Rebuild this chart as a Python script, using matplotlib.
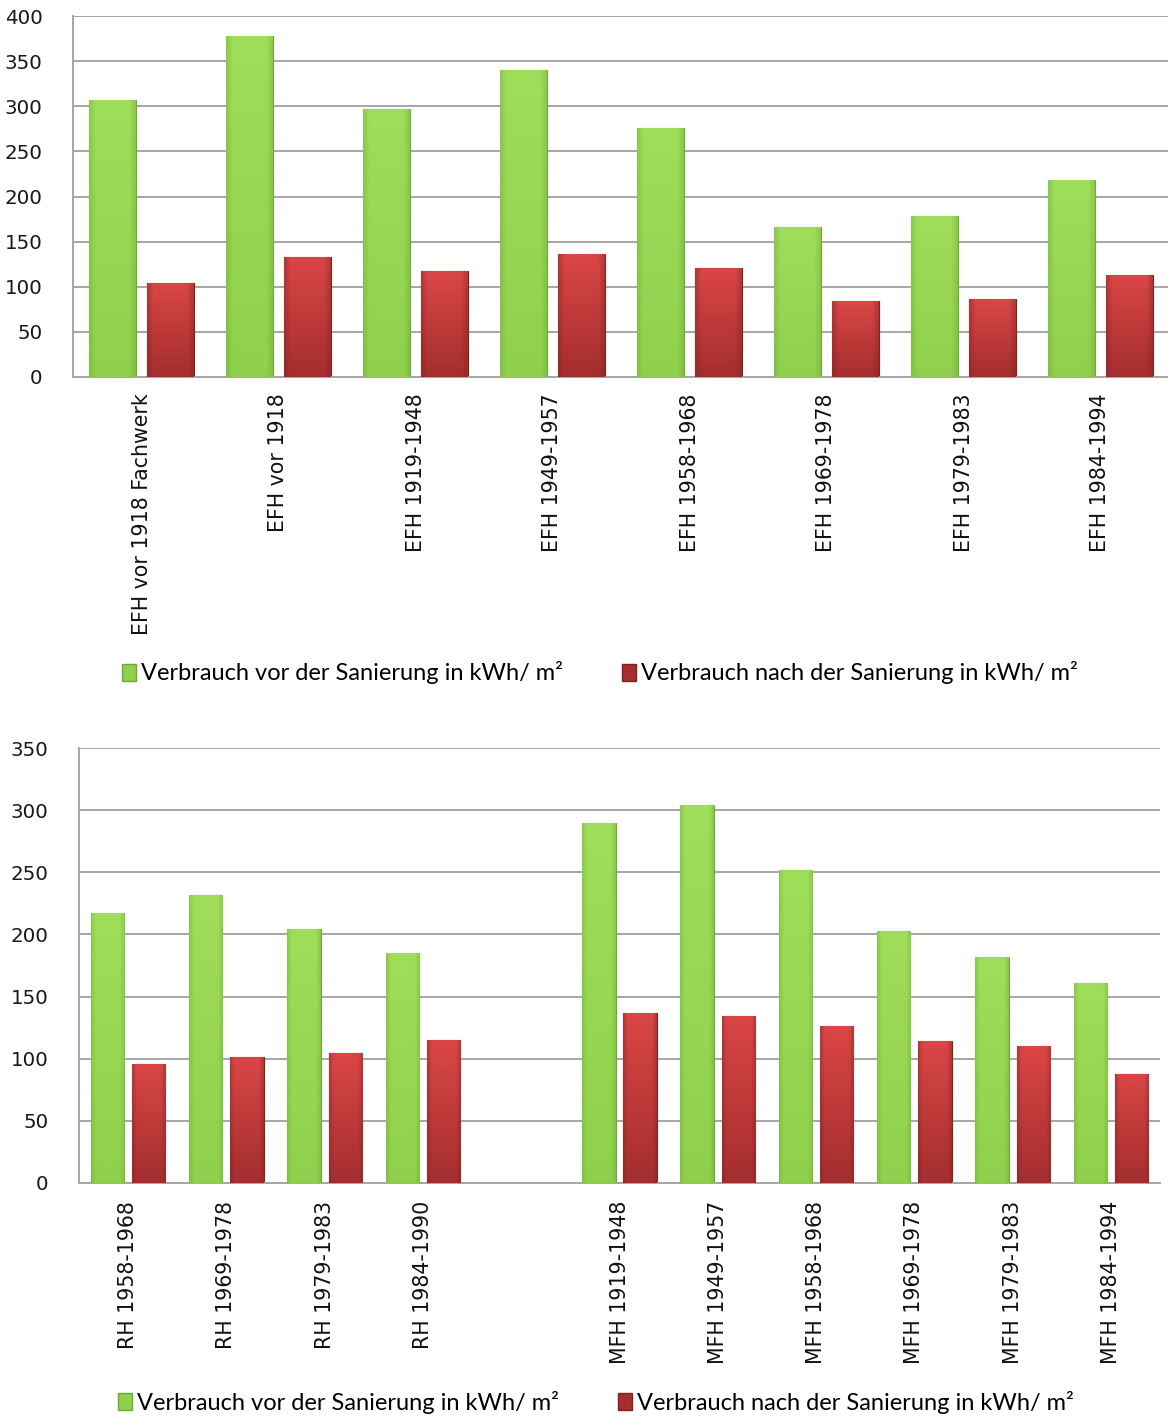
import numpy as np
import matplotlib
matplotlib.use('Agg')
import matplotlib.pyplot as plt
import matplotlib.patches as mpatches
from matplotlib.colors import to_rgb

# Daten oben (EFH)
efh_labels = ['EFH vor 1918 Fachwerk', 'EFH vor 1918', 'EFH 1919-1948', 'EFH 1949-1957',
              'EFH 1958-1968', 'EFH 1969-1978', 'EFH 1979-1983', 'EFH 1984-1994']
efh_vor = [307, 378, 297, 340, 276, 166, 178, 218]
efh_nach = [104, 133, 117, 136, 121, 84, 86, 113]

# Daten unten (RH / MFH), leere Kategorie als Lücke
rh_mfh_labels = ['RH 1958-1968', 'RH 1969-1978', 'RH 1979-1983', 'RH 1984-1990', '',
                 'MFH 1919-1948', 'MFH 1949-1957', 'MFH 1958-1968', 'MFH 1969-1978',
                 'MFH 1979-1983', 'MFH 1984-1994']
rh_mfh_vor = [217, 232, 204, 185, np.nan, 290, 304, 252, 203, 182, 161]
rh_mfh_nach = [96, 101, 105, 115, np.nan, 137, 134, 126, 114, 110, 88]

legend_vor = 'Verbrauch vor der Sanierung in kWh/ m²'
legend_nach = 'Verbrauch nach der Sanierung in kWh/ m²'

GREEN = ('#9fde5b', '#8fd04c', '#6fa83a')   # oben, unten, Rand
RED = ('#da4646', '#a52e2e', '#7e2222')


def shade(ax, bars, colors):
    # Farbverlauf in jeden Balken legen
    top, bottom, edge = (np.array(to_rgb(c)) for c in colors)
    t = np.linspace(0, 1, 64)[:, None, None]
    s = np.linspace(-1, 1, 32)[None, :, None]
    grad = top * (1 - t) + bottom * t
    side = np.clip(np.abs(s) * 3 - 2.2, 0, 1)
    img = grad * (1 - 0.5 * side) + edge * 0.5 * side
    for b in bars:
        x, y, w, h = b.get_x(), b.get_y(), b.get_width(), b.get_height()
        if not np.isfinite(h) or h == 0:
            continue
        im = ax.imshow(img, extent=(x, x + w, y, y + h), aspect='auto',
                       origin='upper', zorder=3, interpolation='bilinear')
        im.set_clip_path(b)
        b.set_edgecolor(edge)


def draw(ax, labels, vor, nach, ymax, ystep, xpad):
    x = np.arange(len(labels))
    w = 0.34
    b1 = ax.bar(x - 0.21, vor, w, color=GREEN[1], linewidth=0.8, zorder=2)
    b2 = ax.bar(x + 0.21, nach, w, color=RED[1], linewidth=0.8, zorder=2)
    shade(ax, b1, GREEN)
    shade(ax, b2, RED)
    ax.set_xlim(-0.5, len(labels) - 0.5)
    ax.set_ylim(0, ymax)
    ax.set_yticks(np.arange(0, ymax + 1, ystep))
    ax.set_xticks(x)
    ax.set_xticklabels(labels, rotation=90, fontsize=14.8, color='#111111')
    ax.tick_params(axis='y', labelsize=14.3, labelcolor='#1a1a1a', length=0, pad=22)
    ax.tick_params(axis='x', length=0, pad=xpad)
    ax.yaxis.grid(True, color='#a6a6a6', linewidth=1.4, zorder=0)
    ax.set_axisbelow(True)
    for sp in ['top', 'right']:
        ax.spines[sp].set_visible(False)
    ax.spines['left'].set_color('#a6a6a6')
    ax.spines['bottom'].set_color('#a6a6a6')
    ax.spines['left'].set_linewidth(1.4)
    ax.spines['bottom'].set_linewidth(1.4)


fig = plt.figure(figsize=(11.68, 14.18), dpi=100)

ax1 = fig.add_axes([73 / 1168, 1 - 377 / 1418, 1096 / 1168, 361 / 1418])
draw(ax1, efh_labels, efh_vor, efh_nach, 400, 50, 12)

ax2 = fig.add_axes([79 / 1168, 1 - 1183 / 1418, 1081 / 1168, 435 / 1418])
draw(ax2, rh_mfh_labels, rh_mfh_vor, rh_mfh_nach, 350, 50, 13)

handles = [mpatches.Patch(facecolor=GREEN[1], edgecolor=GREEN[2], label=legend_vor),
           mpatches.Patch(facecolor=RED[1], edgecolor=RED[2], label=legend_nach)]
leg_kw = dict(ncol=2, frameon=False, handlelength=0.6, handleheight=0.7,
              handletextpad=0.2, columnspacing=2.5, loc='center',
              prop={'family': ['Lato', 'DejaVu Sans'], 'size': 17})
fig.legend(handles=handles, bbox_to_anchor=(600 / 1168, 1 - 673 / 1418), **leg_kw)
fig.legend(handles=handles, bbox_to_anchor=(596 / 1168, 1 - 1402 / 1418), **leg_kw)

fig.savefig('out.png', dpi=100)
